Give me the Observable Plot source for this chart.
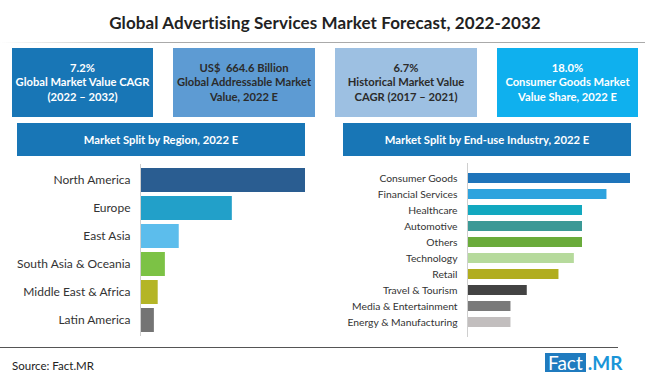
<!DOCTYPE html>
<html>
<head>
<meta charset="utf-8">
<script src="https://cdn.jsdelivr.net/npm/d3@7"></script>
<script src="https://cdn.jsdelivr.net/npm/@observablehq/plot@0.6"></script>
<style>
  html, body { margin: 0; padding: 0; background: #fff; }
  #root { position: relative; width: 650px; height: 381px; overflow: hidden; font-family: Lato, "Open Sans", sans-serif; }
  .abs { position: absolute; }
  .title { left: 0; width: 650px; top: 12px; text-align: center; font-size: 17px; font-weight: 700; color: #222; letter-spacing: 0.1px; }
  .tline { left: 0; top: 42px; width: 645px; height: 1px; background: linear-gradient(to right, rgba(160,160,160,0) 0%, #aaa 25%, #aaa 100%); }
  .kpi { top: 48px; height: 69px; display: flex; align-items: center; justify-content: center; text-align: center; font-weight: 700; font-size: 11.2px; line-height: 14.5px; }
  .hdr { top: 123px; height: 33px; display: flex; align-items: center; justify-content: center; background: #1876b6; color: #fff; font-weight: 700; font-size: 11.3px; }
  .fline { left: 0; top: 347px; width: 618px; height: 1px; background: #555; }
  .src { left: 12px; top: 359px; font-size: 11.5px; color: #222; }
  .logo { left: 545px; top: 353px; height: 19px; display: flex; align-items: center; }
  .logo .f { background: #1f7bbf; color: #fff; font-size: 19px; line-height: 19px; padding: 0 3px; height: 19px; }
  .logo .m { color: #1a95d8; font-size: 19px; font-weight: 700; margin-left: 2px; line-height: 19px; }
  .chart { position: absolute; top: 160px; }
</style>
</head>
<body>
<div id="root">
  <div class="abs title" id="title"></div>
  <div class="abs tline"></div>
  <div id="kpis"></div>
  <div id="hdrs"></div>
  <div class="chart" id="left" style="left:0px"></div>
  <div class="chart" id="right" style="left:330px"></div>
  <div class="abs fline"></div>
  <div class="abs src" id="src"></div>
  <div class="abs logo"><span class="f">Fact</span><span class="m">.MR</span></div>
</div>
<script>
// ---- Data ----
const chartTitle = "Global Advertising Services Market Forecast, 2022-2032";
const kpiLines = [
  ["7.2%", "Global Market Value CAGR", "(2022 – 2032)"],
  ["US$  664.6 Billion", "Global Addressable Market", "Value, 2022 E"],
  ["6.7%", "Historical Market Value", "CAGR (2017 – 2021)"],
  ["18.0%", "Consumer Goods Market", "Value Share, 2022 E"]
];
const panelTitles = ["Market Split by Region, 2022 E", "Market Split by End-use Industry, 2022 E"];
const regions = ["North America", "Europe", "East Asia", "South Asia & Oceania", "Middle East & Africa", "Latin America"];
const regionShare = [34.5, 19.2, 8.1, 5.2, 3.7, 2.9];
const industries = ["Consumer Goods", "Financial Services", "Healthcare", "Automotive", "Others", "Technology", "Retail", "Travel & Tourism", "Media & Entertainment", "Energy & Manufacturing"];
const industryShare = [18.0, 15.4, 12.7, 12.7, 12.7, 11.8, 10.1, 6.6, 4.8, 4.8];
const sourceText = "Source: Fact.MR";

// ---- Styling ----
const kpiStyle = [
  {left: 12, width: 141, bg: "#1876b6", color: "#fff"},
  {left: 173, width: 142, bg: "#5d9bd3", color: "#2b2b2b"},
  {left: 335, width: 142, bg: "#9dc0e2", color: "#2b2b2b"},
  {left: 497, width: 141, bg: "#0fb0ee", color: "#fff"}
];
const hdrStyle = [{left: 17, width: 288}, {left: 343, width: 288}];
const regionColors = ["#2a5d91", "#22a0c9", "#5cbdec", "#7cc245", "#b4b526", "#747474"];
const industryColors = ["#1e74ba", "#2ea3de", "#12a8bf", "#3b9996", "#6aab3b", "#b6da9c", "#b1ad1f", "#434343", "#7a7a7a", "#c2bebe"];

document.getElementById("title").textContent = chartTitle;
document.getElementById("src").textContent = sourceText;
const kpis = document.getElementById("kpis");
kpiLines.forEach((lines, i) => {
  const s = kpiStyle[i];
  const d = document.createElement("div");
  d.className = "abs kpi";
  d.style.left = s.left + "px"; d.style.width = s.width + "px";
  d.style.background = s.bg; d.style.color = s.color;
  d.innerHTML = "<div>" + lines.map(l => l.replace(/  /g, "&nbsp; ")).join("<br>") + "</div>";
  kpis.appendChild(d);
});
const hdrs = document.getElementById("hdrs");
panelTitles.forEach((t, i) => {
  const d = document.createElement("div");
  d.className = "abs hdr";
  d.style.left = hdrStyle[i].left + "px"; d.style.width = hdrStyle[i].width + "px";
  d.textContent = t;
  hdrs.appendChild(d);
});

const regionData = regions.map((r, i) => ({name: r, value: regionShare[i]}));
const industryData = industries.map((r, i) => ({name: r, value: industryShare[i]}));

const left = Plot.plot({
  width: 330, height: 180,
  marginLeft: 140, marginRight: 25, marginTop: 4, marginBottom: 4,
  style: {fontFamily: "Lato, 'Open Sans', sans-serif", color: "#333", background: "transparent"},
  x: {domain: [0, d3.max(regionShare)], axis: null},
  y: {domain: regions, padding: 0.14, label: null},
  color: {domain: regions, range: regionColors},
  marks: [
    Plot.barX(regionData, {y: "name", x: "value", fill: "name"}),
    Plot.ruleX([0], {stroke: "#cfcfcf", strokeWidth: 1}),
    Plot.axisY({tickSize: 0, tickPadding: 10, fontSize: 12, label: null})
  ]
});
document.getElementById("left").appendChild(left);

const right = Plot.plot({
  width: 320, height: 180,
  marginLeft: 137, marginRight: 20, marginTop: 3, marginBottom: 3,
  style: {fontFamily: "Lato, 'Open Sans', sans-serif", color: "#333", background: "transparent"},
  x: {domain: [0, d3.max(industryShare)], axis: null},
  y: {domain: industries, padding: 0.345, label: null},
  color: {domain: industries, range: industryColors},
  marks: [
    Plot.barX(industryData, {y: "name", x: "value", fill: "name"}),
    Plot.ruleX([0], {stroke: "#cfcfcf", strokeWidth: 1}),
    Plot.axisY({tickSize: 0, tickPadding: 10, fontSize: 10.3, label: null})
  ]
});
document.getElementById("right").appendChild(right);
</script>
</body>
</html>
